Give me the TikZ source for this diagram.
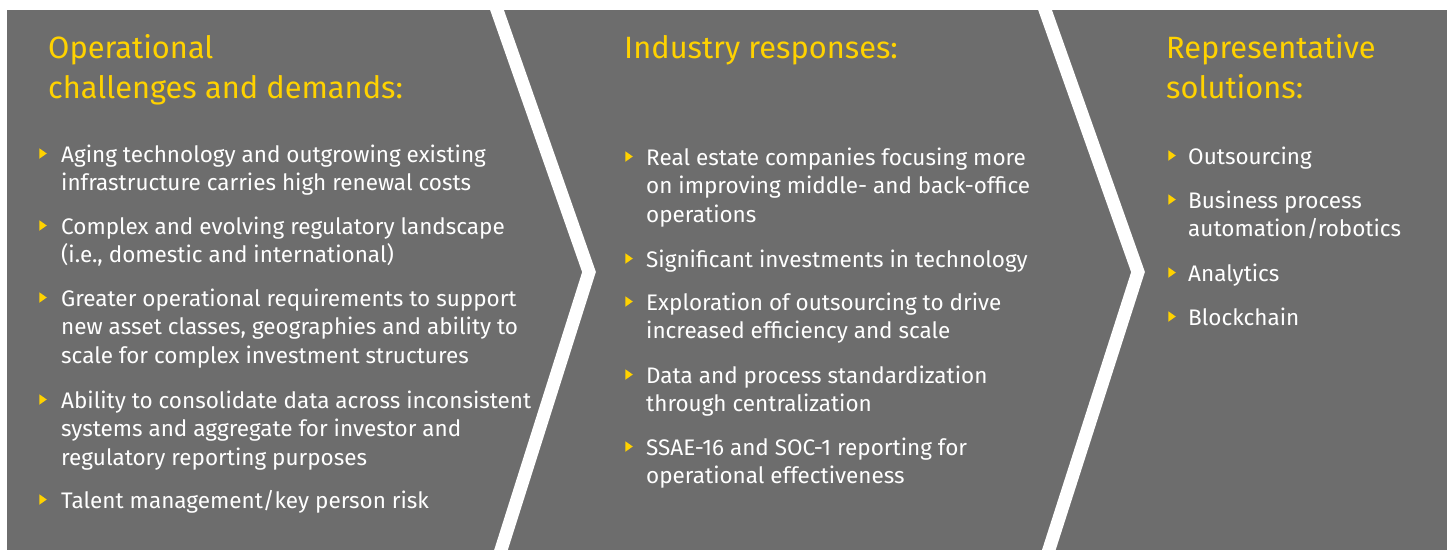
\documentclass[tikz,border=0pt]{standalone}
\usepackage{fontspec}
\setmainfont{Fira Sans}
\usetikzlibrary{shapes.geometric}
\definecolor{panelgray}{HTML}{6D6D6D}
\definecolor{eyyellow}{HTML}{FFD200}
\newcommand\itemlines[1]{\begin{tabular}[t]{@{}l@{}}#1\end{tabular}}
\tikzset{
  body/.style={anchor=base west, inner sep=0pt, text=white, font=\fontsize{22.5}{28.7}\selectfont},
  head/.style={anchor=base west, inner sep=0pt, text=eyyellow, font=\fontsize{30.8}{40}\selectfont},
  bul/.style={fill=eyyellow, draw=none, isosceles triangle, isosceles triangle apex angle=70, minimum height=7.5pt, minimum width=7.5pt, inner sep=0pt},
  sep/.style={draw=white, line width=13pt, line join=miter, miter limit=20}
}
\begin{document}
\begin{tikzpicture}[x=1pt,y=-1pt]
\useasboundingbox (0,0) rectangle (1447,550);
\fill[white] (0,0) rectangle (1447,550);
\begin{scope}
\clip (7,10) rectangle (1447,550);
\fill[panelgray] (7,10) rectangle (1447,550);
\draw[sep] (493.5,0) -- (589,272) -- (497.8,560);
\draw[sep] (1041.5,0) -- (1138,272) -- (1045.6,560);
\end{scope}

% headings
\node[head] (h1) at (48,58) {\itemlines{Operational\\challenges and demands:}};
\node[head] (h2) at (624,58) {Industry responses:};
\node[head] (h3) at (1166,58) {\itemlines{Representative\\solutions:}};

% column 1
\node[body] (a1) at (61,162) {\itemlines{Aging technology and outgrowing existing\\infrastructure carries high renewal costs}};
\node[body] (a2) at (61,234) {\itemlines{Complex and evolving regulatory landscape\\(i.e., domestic and international)}};
\node[body] (a3) at (61,306) {\itemlines{Greater operational requirements to support\\new asset classes, geographies and ability to\\scale for complex investment structures}};
\node[body] (a4) at (61,408) {\itemlines{Ability to consolidate data across inconsistent\\systems and aggregate for investor and\\regulatory reporting purposes}};
\node[body] (a5) at (61,508) {\itemlines{Talent management/key person risk}};
\foreach \y [count=\i] in {162,234,306,408,508}
  \node[bul] (ba\i) at (42,\y-8.5) {};

% column 2
\node[body] (b1) at (646,165) {\itemlines{Real estate companies focusing more\\on improving middle- and back-office\\operations}};
\node[body] (b2) at (646,267) {\itemlines{Significant investments in technology}};
\node[body] (b3) at (646,310) {\itemlines{Exploration of outsourcing to drive\\increased efficiency and scale}};
\node[body] (b4) at (646,383) {\itemlines{Data and process standardization\\through centralization}};
\node[body] (b5) at (646,455) {\itemlines{SSAE-16 and SOC-1 reporting for\\operational effectiveness}};
\foreach \y [count=\i] in {165,267,310,383,455}
  \node[bul] (bb\i) at (628,\y-8.5) {};

% column 3
\node[body] (c1) at (1188,164) {\itemlines{Outsourcing}};
\node[body] (c2) at (1188,208) {\itemlines{Business process\\automation/robotics}};
\node[body] (c3) at (1188,281) {\itemlines{Analytics}};
\node[body] (c4) at (1188,325) {\itemlines{Blockchain}};
\foreach \y [count=\i] in {164,208,281,325}
  \node[bul] (bc\i) at (1171,\y-8.5) {};
\end{tikzpicture}
\end{document}
